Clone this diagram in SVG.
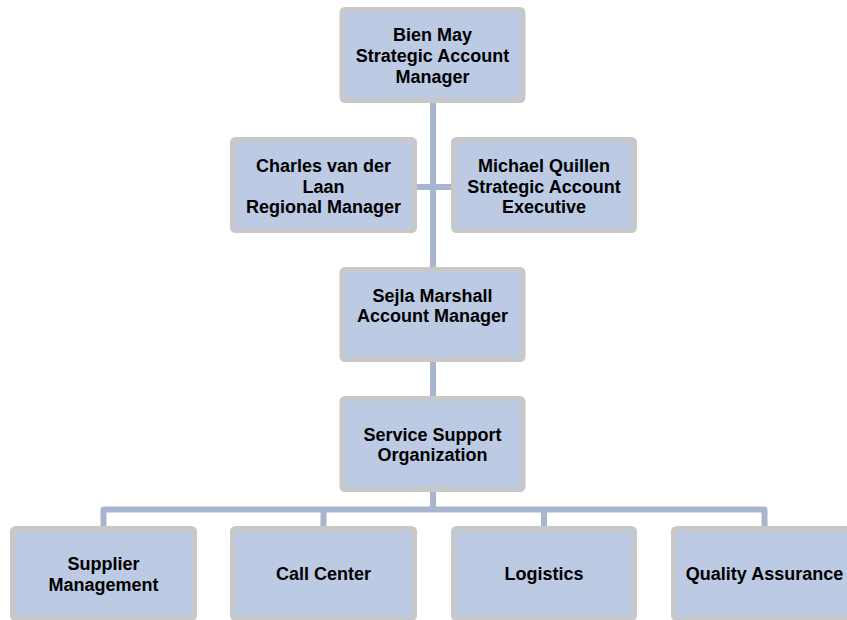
<svg xmlns="http://www.w3.org/2000/svg" width="847" height="620" viewBox="0 0 847 620">
<style>
.box{fill:#BCCAE3;stroke:#C8C8C8;stroke-width:5}
.t{font-family:"Liberation Sans",Arial,sans-serif;font-weight:bold;font-size:18px;fill:#000;text-anchor:middle}
.c{fill:none;stroke:#A7B5CF;stroke-width:6;stroke-linejoin:round}
</style>
<rect width="847" height="620" fill="#fff"/>
<g id="connectors">
<path class="c" d="M433 103V267"/>
<path class="c" d="M417 187H451"/>
<path class="c" d="M433 362V396"/>
<path class="c" d="M433 492V509.5"/>
<path class="c" d="M103.5 526V509.5H764.5V526"/>
<path class="c" d="M323.5 509.5V526"/>
<path class="c" d="M544 509.5V526"/>
</g>
<g id="bien">
<rect class="box" x="342" y="9.5" width="181" height="91" rx="3"/>
<text class="t" x="432.5" y="41">Bien May</text>
<text class="t" x="432.5" y="62">Strategic Account</text>
<text class="t" x="432.5" y="83">Manager</text>
</g>
<g id="charles">
<rect class="box" x="232.5" y="139.5" width="182" height="91" rx="3"/>
<text class="t" x="323.5" y="172">Charles van der</text>
<text class="t" x="323.5" y="192.5">Laan</text>
<text class="t" x="323.5" y="213">Regional Manager</text>
</g>
<g id="michael">
<rect class="box" x="453.5" y="139.5" width="181" height="91" rx="3"/>
<text class="t" x="544" y="172">Michael Quillen</text>
<text class="t" x="544" y="192.5">Strategic Account</text>
<text class="t" x="544" y="213">Executive</text>
</g>
<g id="sejla">
<rect class="box" x="342" y="269.5" width="181" height="90" rx="3"/>
<text class="t" x="432.5" y="302">Sejla Marshall</text>
<text class="t" x="432.5" y="322">Account Manager</text>
</g>
<g id="service">
<rect class="box" x="342" y="398.5" width="181" height="91" rx="3"/>
<text class="t" x="432.5" y="441">Service Support</text>
<text class="t" x="432.5" y="461">Organization</text>
</g>
<g id="supplier">
<rect class="box" x="12.5" y="528.5" width="182" height="90" rx="3"/>
<text class="t" x="103.5" y="570">Supplier</text>
<text class="t" x="103.5" y="591">Management</text>
</g>
<g id="callcenter">
<rect class="box" x="232.5" y="528.5" width="182" height="90" rx="3"/>
<text class="t" x="323.5" y="580">Call Center</text>
</g>
<g id="logistics">
<rect class="box" x="453.5" y="528.5" width="181" height="90" rx="3"/>
<text class="t" x="544" y="580">Logistics</text>
</g>
<g id="quality">
<rect class="box" x="673.5" y="528.5" width="182" height="90" rx="3"/>
<text class="t" x="764.5" y="580">Quality Assurance</text>
</g>
</svg>
